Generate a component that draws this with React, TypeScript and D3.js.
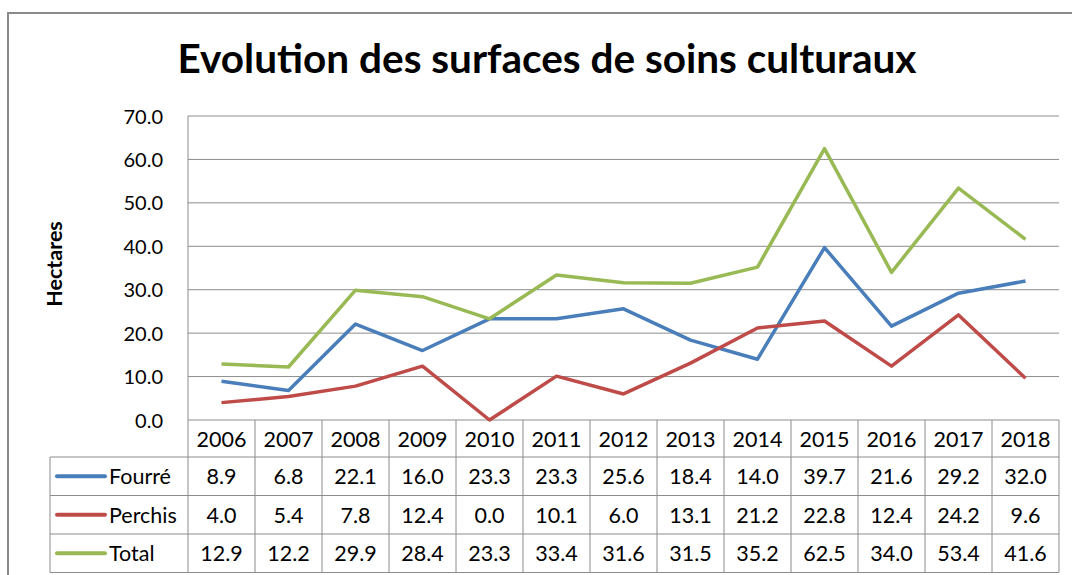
import * as d3 from 'd3';

const years = ['2006', '2007', '2008', '2009', '2010', '2011', '2012', '2013', '2014', '2015', '2016', '2017', '2018'];
const fourre = [8.9, 6.8, 22.1, 16.0, 23.3, 23.3, 25.6, 18.4, 14.0, 39.7, 21.6, 29.2, 32.0];
const perchis = [4.0, 5.4, 7.8, 12.4, 0.0, 10.1, 6.0, 13.1, 21.2, 22.8, 12.4, 24.2, 9.6];
const total = [12.9, 12.2, 29.9, 28.4, 23.3, 33.4, 31.6, 31.5, 35.2, 62.5, 34.0, 53.4, 41.6];
const yTicks = [0, 10, 20, 30, 40, 50, 60, 70];

const series = [
  { name: 'Fourré', values: fourre, color: '#4a7ebb' },
  { name: 'Perchis', values: perchis, color: '#be4b48' },
  { name: 'Total', values: total, color: '#98b954' },
];

const W = 1072;
const H = 575;
const font = 'Lato, "Open Sans", sans-serif';
const plot = { left: 188, right: 1059, top: 116, bottom: 420 };
const rowH = 38.5;
const headerBottom = 457;
const labelLeft = 50;
const grid = '#8c8c8c';

export default function App() {
  const x = d3.scaleBand<string>().domain(years).range([plot.left, plot.right]);
  const y = d3.scaleLinear().domain([0, 70]).range([plot.bottom, plot.top]);
  const line = d3.line<number>()
    .x((_, i) => (x(years[i]) ?? 0) + x.bandwidth() / 2)
    .y(d => y(d));
  const tableBottom = headerBottom + rowH * series.length;

  return (
    <svg width={W} height={H} style={{ position: 'absolute', left: 0, top: 0 }} fontFamily={font}>
      <rect x={0} y={0} width={W} height={H} fill="#fff" />
      <rect x={8} y={13} width={W + 10} height={H} fill="#fff" stroke="#8a8a8a" strokeWidth={2} />
      <text x={547} y={73} textAnchor="middle" fontSize={40.5} fontWeight="bold" fill="#000">
        Evolution des surfaces de soins culturaux
      </text>
      <text transform={`translate(62,${(plot.top + plot.bottom) / 2 - 4}) rotate(-90)`} textAnchor="middle" fontSize={21.5} fontWeight="bold">
        Hectares
      </text>
      {yTicks.map(t => (
        <g key={t}>
          <line x1={plot.left} x2={plot.right} y1={y(t)} y2={y(t)} stroke={grid} strokeWidth={1} />
          <text x={163} y={y(t) + 7.5} textAnchor="end" fontSize={20} fill="#000">{t.toFixed(1)}</text>
        </g>
      ))}
      {/* table */}
      <line x1={plot.left} x2={plot.left} y1={plot.top} y2={tableBottom} stroke={grid} />
      {years.map((yr, i) => {
        const cx = (x(yr) ?? 0) + x.bandwidth() / 2;
        const xr = (x(yr) ?? 0) + x.bandwidth();
        return (
          <g key={yr}>
            <line x1={xr} x2={xr} y1={plot.bottom} y2={tableBottom} stroke={grid} />
            <text x={cx} y={plot.bottom + 27} textAnchor="middle" fontSize={21.5}>{yr}</text>
            {series.map((s, j) => (
              <text key={s.name} x={cx} y={headerBottom + rowH * j + 27} textAnchor="middle" fontSize={21.5}>
                {s.values[i].toFixed(1)}
              </text>
            ))}
          </g>
        );
      })}
      {[0, 1, 2, 3].map(j => (
        <line key={j} x1={labelLeft} x2={plot.right} y1={headerBottom + rowH * j} y2={headerBottom + rowH * j} stroke={grid} />
      ))}
      <line x1={labelLeft} x2={labelLeft} y1={headerBottom} y2={tableBottom} stroke={grid} />
      {series.map((s, j) => (
        <g key={s.name}>
          <line x1={57} x2={105} y1={headerBottom + rowH * j + rowH / 2} y2={headerBottom + rowH * j + rowH / 2} stroke={s.color} strokeWidth={4} strokeLinecap="round" />
          <text x={109} y={headerBottom + rowH * j + 27} fontSize={21.5}>{s.name}</text>
        </g>
      ))}
      {series.map(s => (
        <path key={s.name} d={line(s.values) ?? ''} fill="none" stroke={s.color} strokeWidth={3.5} strokeLinejoin="round" />
      ))}
    </svg>
  );
}
